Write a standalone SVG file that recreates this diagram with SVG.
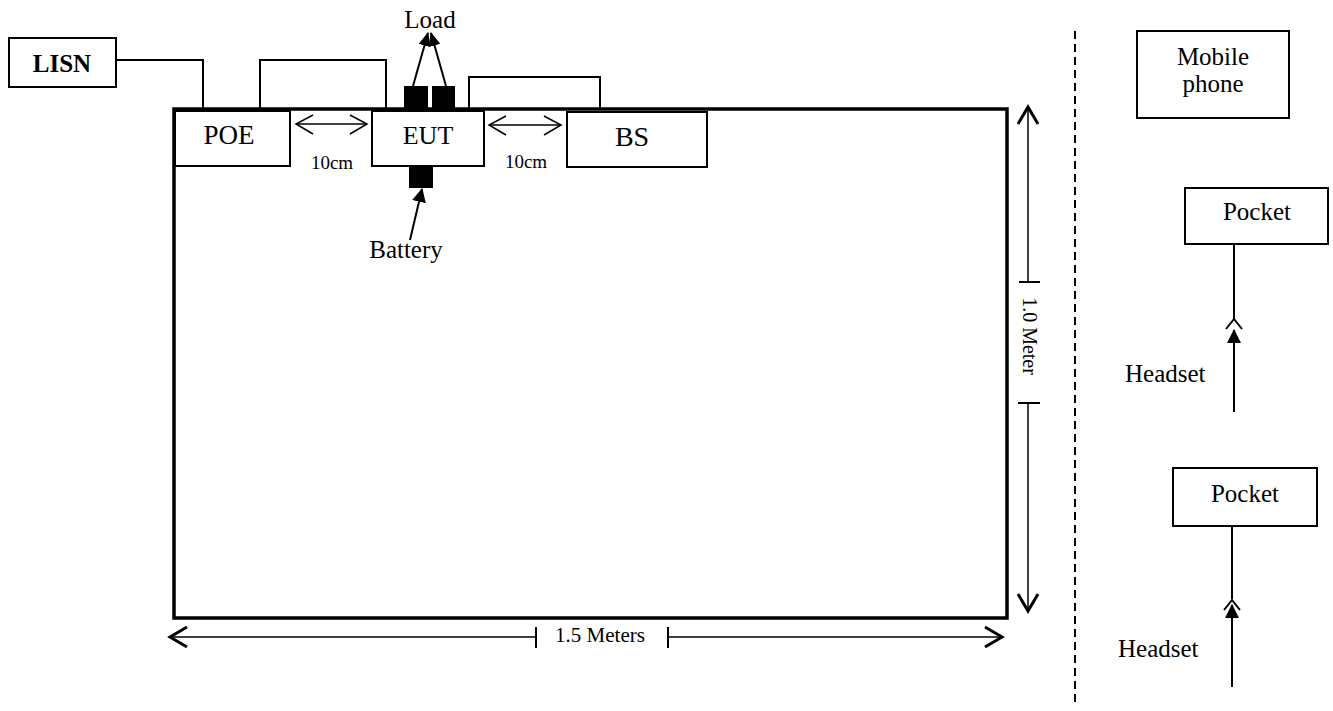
<svg xmlns="http://www.w3.org/2000/svg" width="1333" height="711" viewBox="0 0 1333 711">
<defs>
<style>
text{font-family:"Liberation Serif","Times New Roman",serif;fill:#000}
.box{fill:#fff;stroke:#000;stroke-width:2}
.ln{fill:none;stroke:#000;stroke-width:2}
.thin{fill:none;stroke:#000;stroke-width:1.5}
.barb{fill:none;stroke:#000;stroke-width:3;stroke-linejoin:miter}
.blk{fill:#000}
</style>
<marker id="fa" viewBox="0 0 14 12" refX="13" refY="6" markerWidth="14" markerHeight="12" markerUnits="userSpaceOnUse" orient="auto">
<path d="M0,0 L14,6 L0,12 Z" fill="#000"/>
</marker>
<marker id="fb" viewBox="0 0 14 14" refX="13" refY="7" markerWidth="14" markerHeight="14" markerUnits="userSpaceOnUse" orient="auto">
<path d="M0,0 L14,7 L0,14 Z" fill="#000"/>
</marker>
</defs>

<g id="connectors">
<polyline class="ln" points="117,60 203,60 203,109"/>
<polyline class="ln" points="260,109 260,60 386,60 386,109"/>
<polyline class="ln" points="469,109 469,77 600,77 600,109"/>
<line class="thin" x1="296" y1="124" x2="367" y2="124"/>
<polyline class="thin" points="313,115 296,124 313,134"/>
<polyline class="thin" points="350,115 367,124 350,134"/>
<line class="thin" x1="489" y1="125" x2="561" y2="125"/>
<polyline class="thin" points="506,116 489,125 506,135"/>
<polyline class="thin" points="544,116 561,125 544,135"/>
<line class="ln" x1="413" y1="86" x2="428" y2="33" marker-end="url(#fa)"/>
<line class="ln" x1="446" y1="86" x2="431" y2="33" marker-end="url(#fa)"/>
<line class="ln" x1="410" y1="240" x2="422" y2="189" marker-end="url(#fb)"/>
<line class="thin" x1="1028" y1="107" x2="1028" y2="282"/>
<polyline class="barb" points="1018,124 1028,107 1038,124"/>
<line class="ln" x1="1019" y1="282" x2="1040" y2="282"/>
<line class="ln" x1="1018" y1="403" x2="1040" y2="403"/>
<line class="thin" x1="1028" y1="403" x2="1028" y2="611"/>
<polyline class="barb" points="1018,594 1028,611 1038,594"/>
<line class="thin" x1="170" y1="637" x2="536" y2="637"/>
<polyline class="barb" points="187,627 170,637 187,647"/>
<line class="ln" x1="536" y1="627" x2="536" y2="648"/>
<line class="ln" x1="668" y1="627" x2="668" y2="648"/>
<line class="thin" x1="668" y1="637" x2="1002" y2="637"/>
<polyline class="barb" points="985,627 1002,637 985,647"/>
<line x1="1075" y1="31" x2="1075" y2="705" stroke="#000" stroke-width="2" stroke-dasharray="8,5"/>
<line class="ln" x1="1234" y1="244" x2="1234" y2="319"/>
<polyline class="ln" points="1226,329 1234,319 1242,329"/>
<line class="ln" x1="1234" y1="412" x2="1234" y2="330" marker-end="url(#fb)"/>
<line class="ln" x1="1232" y1="526" x2="1232" y2="599"/>
<polyline class="ln" points="1224,610 1232,600 1240,610"/>
<line class="ln" x1="1232" y1="687" x2="1232" y2="605" marker-end="url(#fb)"/>
</g>

<g id="table">
<rect x="174" y="109" width="833" height="509" fill="none" stroke="#000" stroke-width="3.5"/>
</g>

<g id="lisn">
<rect class="box" x="9" y="38" width="107" height="49"/>
<text x="62" y="72" font-size="25" font-weight="bold" text-anchor="middle">LISN</text>
</g>

<g id="poe">
<rect class="box" x="175" y="111" width="115" height="55"/>
<text x="229" y="144" font-size="27" text-anchor="middle">POE</text>
</g>

<g id="eut">
<rect class="box" x="372" y="111" width="112" height="55"/>
<text x="428" y="144" font-size="26" text-anchor="middle">EUT</text>
</g>

<g id="bs">
<rect class="box" x="567" y="112" width="140" height="55"/>
<text x="632" y="146" font-size="28" text-anchor="middle">BS</text>
</g>

<g id="loads">
<rect class="blk" x="404" y="86" width="24" height="22"/>
<rect class="blk" x="432" y="86" width="23" height="22"/>
<text x="430" y="28" font-size="25" text-anchor="middle">Load</text>
</g>

<g id="battery">
<rect class="blk" x="409" y="167" width="24" height="21"/>
<text x="406" y="258" font-size="25" text-anchor="middle">Battery</text>
</g>

<g id="labels">
<text x="332" y="169" font-size="19" text-anchor="middle">10cm</text>
<text x="526" y="168" font-size="19" text-anchor="middle">10cm</text>
<text x="600" y="642" font-size="21" text-anchor="middle">1.5 Meters</text>
<text transform="translate(1023,336) rotate(90)" font-size="20" text-anchor="middle">1.0 Meter</text>
</g>

<g id="mobile">
<rect class="box" x="1137" y="31" width="152" height="87"/>
<text x="1213" y="65" font-size="25" text-anchor="middle">Mobile</text>
<text x="1213" y="92" font-size="25" text-anchor="middle">phone</text>
</g>

<g id="pocket1">
<rect class="box" x="1185" y="188" width="143" height="56"/>
<text x="1257" y="220" font-size="25" text-anchor="middle">Pocket</text>
</g>

<g id="headset1">
<text x="1125" y="382" font-size="25">Headset</text>
</g>

<g id="pocket2">
<rect class="box" x="1173" y="468" width="144" height="58"/>
<text x="1245" y="502" font-size="25" text-anchor="middle">Pocket</text>
</g>

<g id="headset2">
<text x="1118" y="657" font-size="25">Headset</text>
</g>
</svg>
